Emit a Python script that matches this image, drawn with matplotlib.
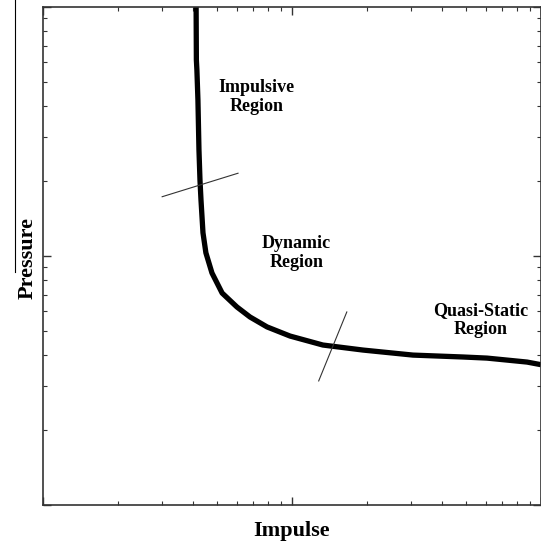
import matplotlib
matplotlib.use("Agg")
import matplotlib.pyplot as plt
from matplotlib.lines import Line2D
from matplotlib.ticker import LogLocator, NullFormatter

# pressure-impulse curve (log-log)
impulse = [4.12, 4.13, 4.15, 4.19, 4.23, 4.27, 4.31, 4.39, 4.51, 4.77, 5.24,
           6.01, 6.78, 7.94, 9.82, 13.3, 19.3, 30.6, 48.6, 60.7, 87.9, 100.0]
pressure = [100.0, 61.3, 55.9, 42.3, 26.7, 20.2, 16.8, 12.4, 10.3, 8.55, 7.10,
            6.24, 5.69, 5.19, 4.77, 4.39, 4.19, 4.00, 3.93, 3.89, 3.75, 3.66]

# thin boundary marks between regions
mark1_x = [3.01, 6.07]
mark1_y = [17.3, 21.5]
mark2_x = [12.8, 16.6]
mark2_y = [3.15, 5.96]

region_labels = ["Impulsive\nRegion", "Dynamic\nRegion", "Quasi-Static\nRegion"]
region_x = [7.2, 10.4, 57.0]
region_y = [43.5, 10.3, 5.53]

plt.rcParams['font.family'] = ['Liberation Serif', 'DejaVu Serif']

fig = plt.figure(figsize=(5.41, 5.43), dpi=100)
ax = fig.add_axes([43/541, 38/543, 498/541, 498/543])

ax.plot(impulse, pressure, color='black', lw=3.8, solid_capstyle='butt')
ax.plot(mark1_x, mark1_y, color='#333333', lw=0.8)
ax.plot(mark2_x, mark2_y, color='#333333', lw=0.8)

for lab, x, y in zip(region_labels, region_x, region_y):
    ax.text(x, y, lab, ha='center', va='center', fontsize=13,
            fontweight='bold', linespacing=1.15)

ax.set_xscale('log')
ax.set_yscale('log')
ax.set_xlim(1, 100)
ax.set_ylim(1, 100)

for a in (ax.xaxis, ax.yaxis):
    a.set_major_locator(LogLocator(base=10))
    a.set_minor_locator(LogLocator(base=10, subs=range(2, 10)))
    a.set_major_formatter(NullFormatter())
    a.set_minor_formatter(NullFormatter())
ax.tick_params(which='both', direction='in', top=True, right=True,
               color='#333333')
ax.tick_params(which='major', length=6, width=1)
ax.tick_params(which='minor', length=3, width=0.8)
for s in ax.spines.values():
    s.set_linewidth(1.2)
    s.set_color('#333333')

ax.set_xlabel('Impulse', fontsize=16, fontweight='bold', va='center')
ax.set_ylabel('Pressure', fontsize=16, fontweight='bold', va='center')
ax.xaxis.set_label_coords(0.5, -26/498)
ax.yaxis.set_label_coords(-15/498, 0.496)

# stray vertical rule left of the y label
fig.add_artist(Line2D([15/541, 15/541], [1.0, 1 - 272/543],
                      color='black', lw=0.8, transform=fig.transFigure))

fig.savefig('out.png', dpi=100)
